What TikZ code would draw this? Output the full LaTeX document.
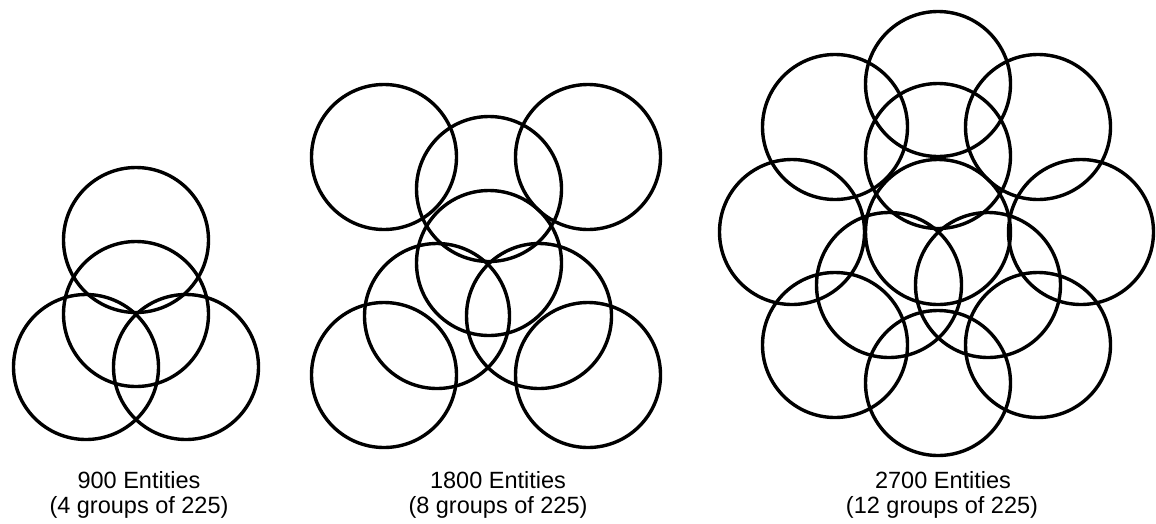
\documentclass[tikz,border=0pt]{standalone}
\usepackage{fontspec}
\setmainfont{Liberation Sans}

\begin{document}
\begin{tikzpicture}[x=1pt, y=-1pt,
  grp/.style    ={draw, circle, line width=3.4pt, minimum size=145pt, inner sep=0pt},
  captext/.style={anchor=base, inner sep=0pt, font=\fontsize{23.5}{25}\selectfont},
]
\useasboundingbox (0,0) rectangle (1156,523);

% ============================ 900 entities ==================================
\foreach \n/\x/\y in {m/136/314, t/136/240, bl/86/367, br/186/367} {
  \node[grp] (a\n) at (\x,\y) {};
}
\node[captext] (acap1) at (139,488) {900 Entities};
\node[captext] (acap2) at (139,513) {(4 groups of 225)};

% ============================ 1800 entities =================================
\foreach \n/\x/\y in {m/489/263, u/489/189, ml/437/316, mr/539/316,
                      tl/384/157, tr/588/157, bl/384/375, br/588/375} {
  \node[grp] (b\n) at (\x,\y) {};
}
\node[captext] (bcap1) at (498,488) {1800 Entities};
\node[captext] (bcap2) at (498,513) {(8 groups of 225)};

% ============================ 2700 entities =================================
% outer ring of six, inner ring of five round the middle one
\foreach \n/\x/\y in {t/938/84, ul/835/127, ur/1038/127, ml/792/232,
                      mr/1081/232, ll/835/345, lr/1038/345, b/938/383,
                      u/938/156, m/938/232, cl/889/285, cr/988/285} {
  \node[grp] (c\n) at (\x,\y) {};
}
\node[captext] (ccap1) at (943,488) {2700 Entities};
\node[captext] (ccap2) at (942,513) {(12 groups of 225)};

\end{tikzpicture}
\end{document}
